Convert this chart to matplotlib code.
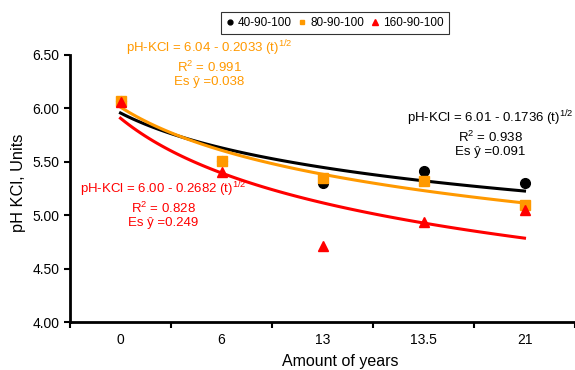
import matplotlib
matplotlib.use("Agg")
import matplotlib.pyplot as plt
import numpy as np

plt.rcParams['font.family'] = ['Liberation Sans', 'DejaVu Sans']
plt.rcParams['mathtext.fontset'] = 'custom'
plt.rcParams['mathtext.rm'] = 'Liberation Sans'
plt.rcParams['mathtext.it'] = 'Liberation Sans'

# datos
anos = ['0', '6', '13', '13.5', '21']
ph_40 = [6.07, 5.51, 5.30, 5.41, 5.30]
ph_80 = [6.07, 5.51, 5.35, 5.32, 5.10]
ph_160 = [6.06, 5.40, 4.71, 4.94, 5.05]

series = [
    ('40-90-100', ph_40, 'black', 'o', 7),
    ('80-90-100', ph_80, '#FF9900', 's', 6.5),
    ('160-90-100', ph_160, '#FF0000', '^', 7.5),
]

fig = plt.figure(figsize=(5.75, 3.7), dpi=100)
ax = fig.add_axes([70/575, 1-322/370, 505/575, (322-55)/370])

pos = np.arange(1, len(anos) + 1)

# lineas de tendencia (potencial sobre la posicion de la categoria, como Excel)
xs = np.linspace(1, 5, 100)
for nombre, vals, col, mk, ms in series:
    b, lna = np.polyfit(np.log(pos), np.log(vals), 1)
    ax.plot(xs, np.exp(lna) * xs**b, color=col, lw=2.2, zorder=2)

for nombre, vals, col, mk, ms in series:
    ax.plot(pos, vals, linestyle='none', marker=mk, color=col, ms=ms,
            label=nombre, zorder=3)

ax.set_xlim(0.5, 0.5 + 505/106)
ax.set_ylim(4.0, 6.5)
ax.set_yticks([4.0, 4.5, 5.0, 5.5, 6.0, 6.5])
ax.set_yticklabels(['%.2f' % v for v in [4.0, 4.5, 5.0, 5.5, 6.0, 6.5]], fontsize=10)
ax.set_xticks(pos)
ax.set_xticklabels(anos, fontsize=10)
ax.set_xticks(np.arange(0.5, 6, 1), minor=True)
ax.tick_params(axis='x', which='major', length=0, pad=8)
ax.tick_params(axis='x', which='minor', length=4, width=1.5, direction='out')
ax.tick_params(axis='y', length=4, width=1.5, direction='out')
for s in ['top', 'right']:
    ax.spines[s].set_visible(False)
for s in ['left', 'bottom']:
    ax.spines[s].set_linewidth(2)

fig.text(19/575, 1-183/370, 'pH KCl, Units', fontsize=11.8, rotation=90,
         ha='center', va='center')
fig.text(340/575, 1-366/370, 'Amount of years', fontsize=11.5, ha='center', va='baseline')

# ecuaciones
fig.text(209/575, 1-63/370, r'pH-KCl = 6.04 - 0.2033 (t)$^{1/2}$' + '\nR$^{2}$ = 0.991\nEs ŷ =0.038',
         color='#FF9900', fontsize=9.5, ha='center', va='center', linespacing=1.15,
         multialignment='center')
fig.text(490/575, 1-133/370, r'pH-KCl = 6.01 - 0.1736 (t)$^{1/2}$' + '\nR$^{2}$ = 0.938\nEs ŷ =0.091',
         color='black', fontsize=9.5, ha='center', va='center', linespacing=1.15,
         multialignment='center')
fig.text(163/575, 1-204/370, r'pH-KCl = 6.00 - 0.2682 (t)$^{1/2}$' + '\nR$^{2}$ = 0.828\nEs ŷ =0.249',
         color='#FF0000', fontsize=9.5, ha='center', va='center', linespacing=1.15,
         multialignment='center')

leg = fig.legend(loc='center', bbox_to_anchor=(335/575, 1-23/370), ncol=3,
                 fontsize=8.5, frameon=True, fancybox=False, edgecolor='black',
                 handlelength=0.6, handletextpad=0.4, columnspacing=0.6,
                 markerscale=0.5, borderpad=0.4)
leg.get_frame().set_linewidth(0.8)

fig.savefig('out.png', dpi=100)
